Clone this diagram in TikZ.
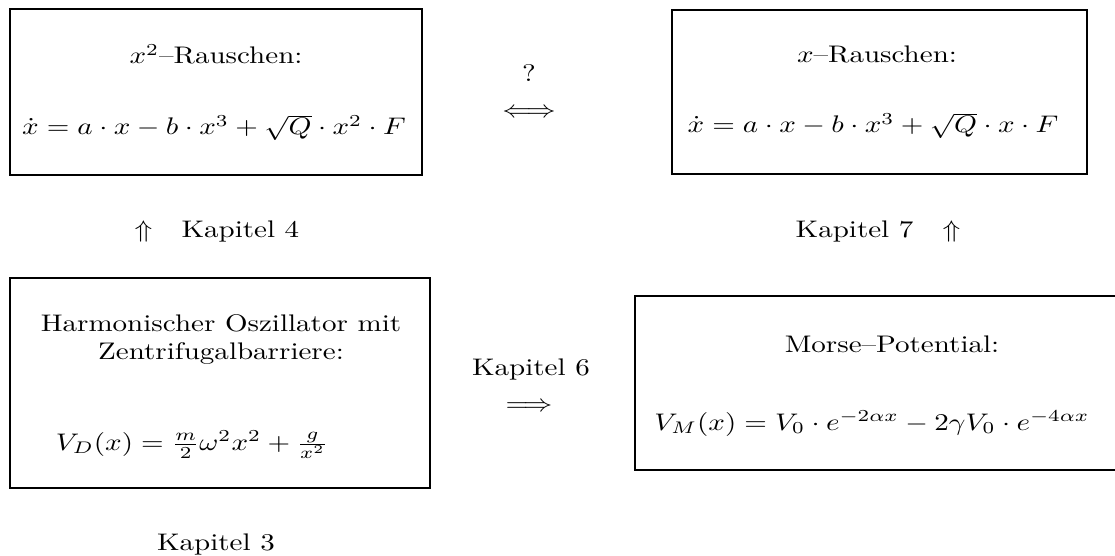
\documentclass[tikz,border=0pt]{standalone}
\usepackage{graphicx}
\usepackage{tikz}
\usetikzlibrary{positioning}
\newcommand{\breit}[1]{\scalebox{1.21}[1]{#1}}

\begin{document}
\begin{tikzpicture}[x=0.4167pt, y=-0.4167pt,
  kasten/.style={draw, line width=1.1pt, inner sep=0pt},
  txt/.style={anchor=base, inner sep=0pt},
]
\useasboundingbox (0,0) rectangle (1115,556);
% Kaesten
\node[kasten, minimum width=171.7pt, minimum height=69.2pt] (quadrat) at (216,92) {};
\node[kasten, minimum width=172.9pt, minimum height=68.3pt] (linear) at (879.5,92) {};
\node[kasten, minimum width=175pt, minimum height=87.5pt] (oszi) at (220,383) {};
\node[kasten, minimum width=208.4pt, minimum height=72.5pt] (morse) at (885,383) {};

% Texte in den Kaesten
\node[txt] (quadratKopf) at (216,64) {\breit{$x^2$--Rauschen:}};
\node[txt] (quadratGl) at (214,135) {\breit{$\dot{x} = a\cdot x - b\cdot x^3 + \sqrt{Q}\cdot x^2\cdot F$}};
\node[txt] (linearKopf) at (877,63) {\breit{$x$--Rauschen:}};
\node[txt] (linearGl) at (873,133) {\breit{$\dot{x} = a\cdot x - b\cdot x^3 + \sqrt{Q}\cdot x\cdot F$}};
\node[txt] (osziKopfA) at (221,332) {\breit{Harmonischer Oszillator mit}};
\node[txt] (osziKopfB) at (221,360) {\breit{Zentrifugalbarriere:}};
\node[txt] (osziGl) at (192,450) {\breit{$V_D(x) = \frac{m}{2}\omega^2x^2 + \frac{g}{x^2}$}};
\node[txt] (morseKopf) at (892,353) {\breit{Morse--Potential:}};
\node[txt] (morseGl) at (872,430) {\breit{$V_M(x) = V_0\cdot e^{-2\alpha x} - 2\gamma V_0\cdot e^{-4\alpha x}$}};

% Pfeile und Kapitel
\node[txt] (frage) at (529,82) {\breit{?}};
\node[txt] (aequiv) at (529,118) {\breit{$\Longleftrightarrow$}};
\node[txt] (kapVier) at (217,238) {\breit{$\Uparrow$\quad Kapitel 4}};
\node[txt] (kapSieben) at (878,238) {\breit{Kapitel 7\quad $\Uparrow$}};
\node[txt] (kapSechs) at (531,375) {\breit{Kapitel 6}};
\node[txt] (folgt) at (529,411) {\breit{$\Longrightarrow$}};
\node[txt] (kapDrei) at (216,550) {\breit{Kapitel 3}};
\end{tikzpicture}
\end{document}
